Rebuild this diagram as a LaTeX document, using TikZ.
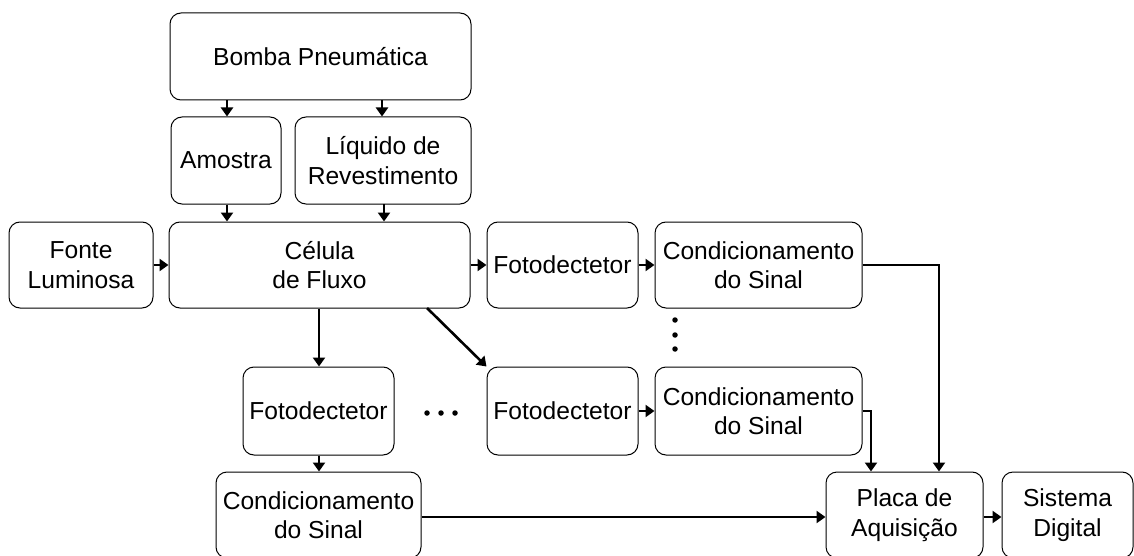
\documentclass[tikz,border=0pt]{standalone}
\usepackage{fontspec}
\setmainfont{Liberation Sans}
\usetikzlibrary{arrows.meta}
\begin{document}
\begin{tikzpicture}[x=1pt,y=-1pt,
  blk/.style={draw=black,line width=1pt,rounded corners=11pt,inner sep=0pt,align=center,
    font=\fontsize{24.6}{29.5}\selectfont},
  conn/.style={line width=2.6pt,-{Triangle[length=9pt,width=12pt]}},
  dotm/.style={fill=black,circle,inner sep=0pt,minimum size=5.5pt}]
\useasboundingbox (0,0) rectangle (1134,556);
\node[blk,minimum width=301pt,minimum height=87pt] (bomba) at (320.5,56.5) {Bomba Pneumática};
\node[blk,minimum width=110pt,minimum height=87pt] (amostra) at (226,160.5) {Amostra};
\node[blk,minimum width=176pt,minimum height=87pt] (liq) at (383,160.5) {Líquido de\\Revestimento};
\node[blk,minimum width=144pt,minimum height=86pt] (fonte) at (81,265) {Fonte\\Luminosa};
\node[blk,minimum width=301pt,minimum height=86pt] (cel) at (319.5,265) {Célula\\de Fluxo};
\node[blk,minimum width=151pt,minimum height=86pt] (foto1) at (562.5,265) {Fotodectetor};
\node[blk,minimum width=207pt,minimum height=86pt] (cond1) at (758.5,265) {Condicionamento\\do Sinal};
\node[blk,minimum width=151pt,minimum height=88pt] (foto2) at (318.5,411) {Fotodectetor};
\node[blk,minimum width=151pt,minimum height=88pt] (foto3) at (562.5,411) {Fotodectetor};
\node[blk,minimum width=207pt,minimum height=88pt] (cond3) at (758.5,411) {Condicionamento\\do Sinal};
\node[blk,minimum width=205pt,minimum height=86pt] (cond2) at (318.5,515) {Condicionamento\\do Sinal};
\node[blk,minimum width=157pt,minimum height=86pt] (placa) at (904.5,515) {Placa de\\Aquisição};
\node[blk,minimum width=131pt,minimum height=86pt] (sist) at (1067.5,515) {Sistema\\Digital};
% dots
\node[dotm] (v1) at (675,320) {};
\node[dotm] (v2) at (675,335) {};
\node[dotm] (v3) at (675,349) {};
\node[dotm] (h1) at (427,413) {};
\node[dotm] (h2) at (441,413) {};
\node[dotm] (h3) at (455,413) {};
% connectors
\draw[conn] (bomba.south -| amostra.north) ++(1,0) coordinate (a1) -- (a1 |- amostra.north);
\draw[conn] (382,100) coordinate (a2) -- (a2 |- liq.north);
\draw[conn] (amostra.south) ++(1,0) coordinate (a3) -- (a3 |- cel.north);
\draw[conn] (384,204) coordinate (a4) -- (a4 |- cel.north);
\draw[conn] (fonte.east) -- (cel.west);
\draw[conn] (cel.east) -- (foto1.west);
\draw[conn] (foto1.east) -- (cond1.west);
\draw[conn] (cond1.east) -- (939,265) coordinate (c1) -- (c1 |- placa.north);
\draw[conn] (cel.south -| foto2.north) ++(0.5,0) coordinate (a5) -- (a5 |- foto2.north);
\draw[conn] (427,308) coordinate (d1) -- (foto3.north west);
\draw[conn] (foto3.east) -- (cond3.west);
\draw[conn] (cond3.east) -- (871,411) coordinate (c3) -- (c3 |- placa.north);
\draw[conn] (foto2.south) ++(0.5,0) coordinate (a6) -- (a6 |- cond2.north);
\draw[conn] (cond2.east |- 0,517) coordinate (b1) -- (b1 -| placa.west);
\draw[conn] (placa.east |- 0,517) coordinate (b2) -- (b2 -| sist.west);
\end{tikzpicture}
\end{document}
